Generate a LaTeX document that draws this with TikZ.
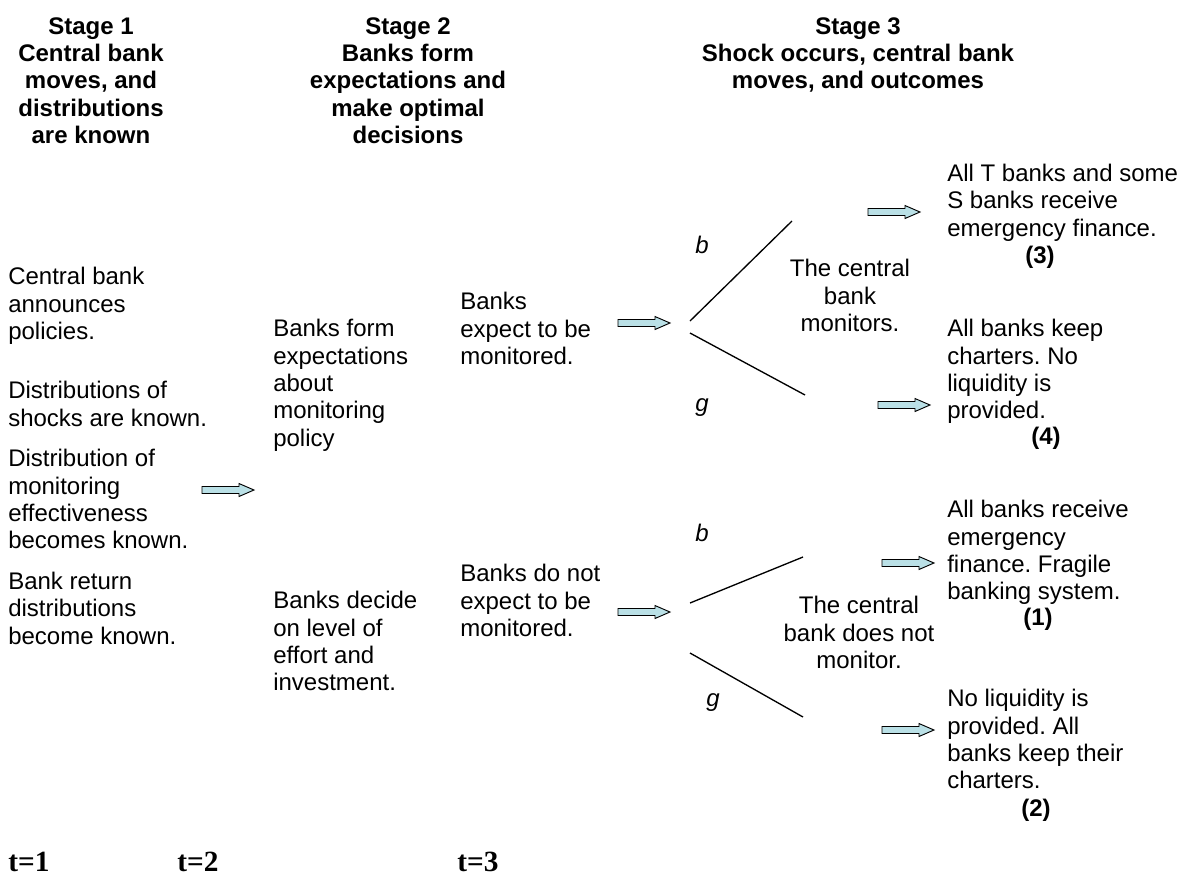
\documentclass[tikz,border=0pt]{standalone}
\usepackage{fontspec}
\setmainfont{Liberation Sans}
\newfontfamily\timesfont{Liberation Serif}
\definecolor{arrowfill}{RGB}{186,224,230}
\tikzset{
  txt/.style={font=\fontsize{18pt}{20.5pt}\selectfont\frenchspacing, inner sep=0pt},
  body/.style={txt, align=left, anchor=north west},
  head/.style={txt, font=\fontsize{18pt}{20.5pt}\selectfont\bfseries, align=center, anchor=north},
  mid/.style={txt, align=center, anchor=north},
  num/.style={txt, font=\fontsize{18pt}{20.5pt}\selectfont\bfseries, anchor=base},
  branch/.style={txt, font=\fontsize{18pt}{20.5pt}\selectfont\itshape},
  tlabel/.style={font=\timesfont\fontsize{22pt}{24pt}\selectfont\bfseries, anchor=base west, inner sep=0pt},
  blockarrow/.pic={
    \filldraw[fill=arrowfill, line width=0.7pt]
      (0,-3.5) -- (37,-3.5) -- (37,-6.5) -- (52,0) -- (37,6.5) -- (37,3.5) -- (0,3.5) -- cycle;
  },
  tree/.style={line width=1pt},
}
\begin{document}
\begin{tikzpicture}[x=0.75pt, y=-0.75pt]
  \useasboundingbox (0,0) rectangle (1179,876);
  % headings
  \node[head] (stage1) at (91,17) {Stage 1\\Central bank\\moves, and\\distributions\\are known};
  \node[head] (stage2) at (408,17) {Stage 2\\Banks form\\expectations and\\make optimal\\decisions};
  \node[head] (stage3) at (858,17) {Stage 3\\Shock occurs, central bank\\moves, and outcomes};
  % stage 1
  \node[body] (policy) at (8,267) {Central bank\\announces\\policies.\\[24pt]
    Distributions of\\shocks are known.\\[10pt]
    Distribution of\\monitoring\\effectiveness\\becomes known.\\[10pt]
    Bank return\\distributions\\become known.};
  \pic (go1) at (202,490) {blockarrow};
  % stage 2
  \node[body] (form) at (273,319) {Banks form\\expectations\\about\\monitoring\\policy};
  \node[body] (decide) at (273,591) {Banks decide\\on level of\\effort and\\investment.};
  \node[body] (expmon) at (460,292) {Banks\\expect to be\\monitored.};
  \node[body] (expnot) at (460,564) {Banks do not\\expect to be\\monitored.};
  \pic (go2) at (618,323) {blockarrow};
  \pic (go3) at (618,612) {blockarrow};
  % stage 3 tree
  \coordinate (ub0) at (690,321);
  \coordinate (ub1) at (792,221);
  \coordinate (ug0) at (690,333);
  \coordinate (ug1) at (805,395);
  \coordinate (lb0) at (690,603);
  \coordinate (lb1) at (803,557);
  \coordinate (lg0) at (690,653);
  \coordinate (lg1) at (803,717);
  \draw[tree] (ub0) -- (ub1);
  \draw[tree] (ug0) -- (ug1);
  \draw[tree] (lb0) -- (lb1);
  \draw[tree] (lg0) -- (lg1);
  \node[branch] (bup) at (702,245) {b};
  \node[branch] (gup) at (702,408) {g};
  \node[branch] (blo) at (702,533) {b};
  \node[branch] (glo) at (713,703) {g};
  \node[mid] (mon) at (850,259) {The central\\bank\\monitors.};
  \node[mid] (nomon) at (859,596) {The central\\bank does not\\monitor.};
  % outcomes
  \pic (go4) at (868,212) {blockarrow};
  \node[body] (out3) at (947,164) {All T banks and some\\S banks receive\\emergency finance.};
  \node[num] (n3) at (1040,263) {(3)};
  \pic (go5) at (878,405) {blockarrow};
  \node[body] (out4) at (947,319) {All banks keep\\charters. No\\liquidity is\\provided.};
  \node[num] (n4) at (1046,444) {(4)};
  \pic (go6) at (882,563) {blockarrow};
  \node[body] (out1) at (947,500) {All banks receive\\emergency\\finance. Fragile\\banking system.};
  \node[num] (n1) at (1038,625) {(1)};
  \pic (go7) at (882,730) {blockarrow};
  \node[body] (out2) at (947,689) {No liquidity is\\provided. All\\banks keep their\\charters.};
  \node[num] (n2) at (1036,816) {(2)};
  % time
  \node[tlabel] (t1) at (8,871) {t=1};
  \node[tlabel] (t2) at (177,871) {t=2};
  \node[tlabel] (t3) at (457,871) {t=3};
\end{tikzpicture}
\end{document}
